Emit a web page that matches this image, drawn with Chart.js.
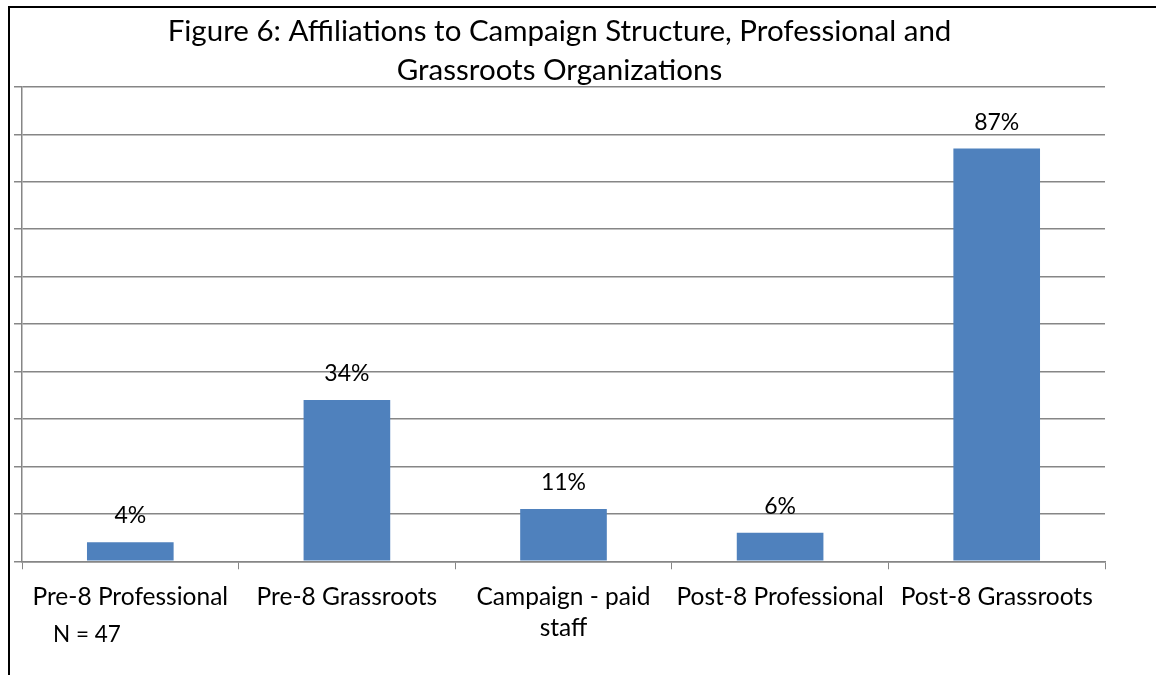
<!DOCTYPE html>
<html>
<head>
<meta charset="utf-8">
<script src="https://cdn.jsdelivr.net/npm/chart.js@4/dist/chart.umd.min.js"></script>
<style>
  html, body { margin: 0; padding: 0; background: #fff; }
  #wrap { width: 1156px; height: 675px; position: relative; }
</style>
</head>
<body>
<div id="wrap"><canvas id="chart"></canvas></div>
<script>
// categories and percentages for the affiliations chart
let categories = [
    'Pre-8 Professional',
    'Pre-8 Grassroots',
    ['Campaign - paid', 'staff'],
    'Post-8 Professional',
    'Post-8 Grassroots'
];
let percents = [4, 34, 11, 6, 87];
let yMin = 0;
let yMax = 100;
let yStep = 10;
let titleLines = [
    'Figure 6: Affiliations to Campaign Structure, Professional and',
    'Grassroots Organizations'
];
let sampleNote = 'N = 47';

let FONT = "Lato, 'Open Sans', sans-serif";
let GRID = '#868686';
let BAR = '#4f81bd';

// frame lines on the left and top of the figure
var framePlugin = {
    id: 'frame',
    beforeDraw: function(chart) {
        var ctx = chart.ctx;
        ctx.save();
        ctx.strokeStyle = '#000';
        ctx.lineWidth = 2;
        ctx.beginPath();
        ctx.moveTo(9, chart.height);
        ctx.lineTo(9, 7);
        ctx.lineTo(chart.width, 7);
        ctx.stroke();
        ctx.restore();
    }
};

// percent labels above each bar plus the sample size note
var labelPlugin = {
    id: 'barLabels',
    afterDatasetsDraw: function(chart) {
        var ctx = chart.ctx;
        var meta = chart.getDatasetMeta(0);
        ctx.save();
        ctx.fillStyle = '#000';
        ctx.font = '23px ' + FONT;
        ctx.textAlign = 'center';
        ctx.textBaseline = 'alphabetic';
        meta.data.forEach(function(bar, i) {
            ctx.fillText(percents[i] + '%', bar.x, bar.y - 19);
        });

        ctx.font = '22.5px ' + FONT;
        ctx.textAlign = 'left';
        ctx.textBaseline = 'middle';
        ctx.fillText(sampleNote, 53, 635);
        ctx.restore();
    }
};

new Chart(document.getElementById('chart'), {
    type: 'bar',
    data: {
        labels: categories,
        datasets: [{
            label: 'Affiliation',
            data: percents,
            backgroundColor: BAR,
            borderWidth: 0,
            categoryPercentage: 1,
            barPercentage: 0.4
        }]
    },
    options: {
        responsive: true,
        maintainAspectRatio: false,
        animation: false,
        layout: { padding: { left: 14, right: 51, top: 0, bottom: 19 } },
        plugins: {
            legend: { display: false },
            tooltip: { enabled: false },
            title: {
                display: true,
                text: titleLines,
                color: '#000',
                font: { family: FONT, size: 29.5, weight: 'normal', lineHeight: 1.32 },
                padding: { top: 12, bottom: -3 }
            }
        },
        scales: {
            x: {
                grid: {
                    drawOnChartArea: false,
                    drawTicks: true,
                    tickLength: 8,
                    color: GRID
                },
                border: { color: GRID, width: 1.5 },
                ticks: {
                    color: '#000',
                    padding: 12,
                    maxRotation: 0,
                    autoSkip: false,
                    font: { family: FONT, size: 24.5, lineHeight: 1.28 }
                }
            },
            y: {
                min: yMin,
                max: yMax,
                grid: {
                    color: GRID,
                    lineWidth: 1.5,
                    tickLength: 8
                },
                border: { color: GRID, width: 1.5 },
                ticks: { display: false, stepSize: yStep }
            }
        }
    },
    plugins: [framePlugin, labelPlugin]
});
</script>
</body>
</html>
